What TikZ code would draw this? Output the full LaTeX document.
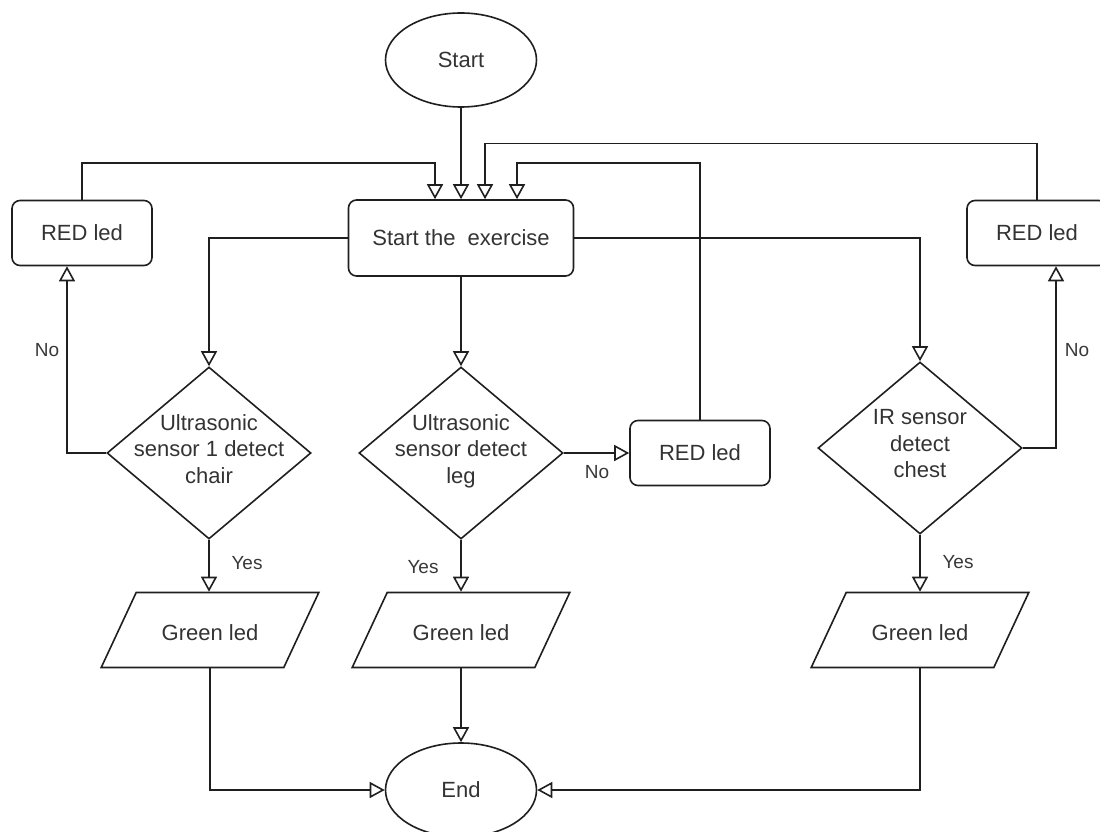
\documentclass[tikz,border=0pt]{standalone}
\usepackage{fontspec}
\setmainfont{Liberation Sans}
\usetikzlibrary{arrows.meta,shapes.geometric}
\def\boxfont{\fontsize{22}{26.5}\selectfont}
\tikzset{
	line/.style={line width=1.6pt, draw=black!88},
	flow/.style={line, -{Triangle[open,width=16pt,length=15pt]}},
	terminal/.style={line, ellipse, minimum width=151pt, minimum height=94pt, inner sep=0pt, font=\boxfont, text=black!80},
	process/.style={line, rounded corners=8pt, minimum width=225pt, minimum height=76pt, font=\boxfont, text=black!80},
	ledbox/.style={process, minimum width=140pt, minimum height=65pt},
	decision/.style={line, diamond, minimum width=204pt, minimum height=172pt, inner sep=-20pt, align=center, font=\boxfont, text=black!80},
	iobox/.style={line, trapezium, trapezium left angle=65, trapezium right angle=115, text height=21pt, text depth=0pt, inner xsep=25.5pt, inner ysep=27pt, font=\boxfont, text=black!80},
	answer/.style={font=\fontsize{19}{22}\selectfont, text=black!78}
}

\begin{document}
\begin{tikzpicture}[x=1pt,y=-1pt]
		%%%%% START %%%%%
		\useasboundingbox (0,0) rectangle (1100,832);
		
		\node[terminal] (start) at (461,60) {Start};
		\node[process] (exer) at (461,238) {Start the\ \ exercise};
		
		\node[ledbox] (redL) at (82,233) {RED led};
		\node[ledbox] (redM) at (700,453) {RED led};
		\node[ledbox] (redR) at (1037,233) {RED led};
		
		\node[decision] (chair) at (209,453) {Ultrasonic\\sensor 1 detect\\chair\\[-18pt]};
		\node[decision] (leg) at (461,453) {Ultrasonic\\sensor detect\\leg\\[-18pt]};
		\node[decision] (chest) at (920,448) {IR sensor\\detect\\chest\\[-18pt]};
		
		\node[iobox] (greenL) at (210,630) {Green led};
		\node[iobox] (greenM) at (461,630) {Green led};
		\node[iobox] (greenR) at (920,630) {Green led};
		
		\node[terminal] (end) at (461,790) {End};
		
		% into the exercise
		\draw[flow] (start) -- (exer);
		\draw[flow] (redL.north) -- ++(0,-37) -| ([xshift=-26pt]exer.north);
		\draw[flow] (redR.north) -- ++(0,-56) -| ([xshift=24pt]exer.north);
		\draw[flow] (redM.north) -- ++(0,-257) -| ([xshift=56pt]exer.north);
		
		% out to the sensors
		\draw[flow] (exer.west) -| (chair.north);
		\draw[flow] (exer.south) -- (leg.north);
		\draw[flow] (exer.east) -| (chest.north);
		
		% no
		\draw[flow] (chair.west) -| ([xshift=-15pt]redL.south);
		\node[answer] (noL) at (47,350) {No};
		\draw[flow] (leg.east) -- (redM.west);
		\node[answer] (noM) at (597,472) {No};
		\draw[flow] (chest.east) -| ([xshift=19pt]redR.south);
		\node[answer] (noR) at (1077,350) {No};
		
		% yes
		\draw[flow] (chair.south) -- (chair.south |- greenL.north);
		\node[answer] (yesL) at (247,563) {Yes};
		\draw[flow] (leg.south) -- (leg.south |- greenM.north);
		\node[answer] (yesM) at (423,567) {Yes};
		\draw[flow] (chest.south) -- (chest.south |- greenR.north);
		\node[answer] (yesR) at (958,562) {Yes};
		
		% to the end
		\draw[flow] (greenL.center |- greenL.south) |- (end.west);
		\draw[flow] (greenM.center |- greenM.south) -- (end.north);
		\draw[flow] (greenR.center |- greenR.south) |- (end.east);
		
		%%%%% END %%%%%
	\end{tikzpicture}
\end{document}
